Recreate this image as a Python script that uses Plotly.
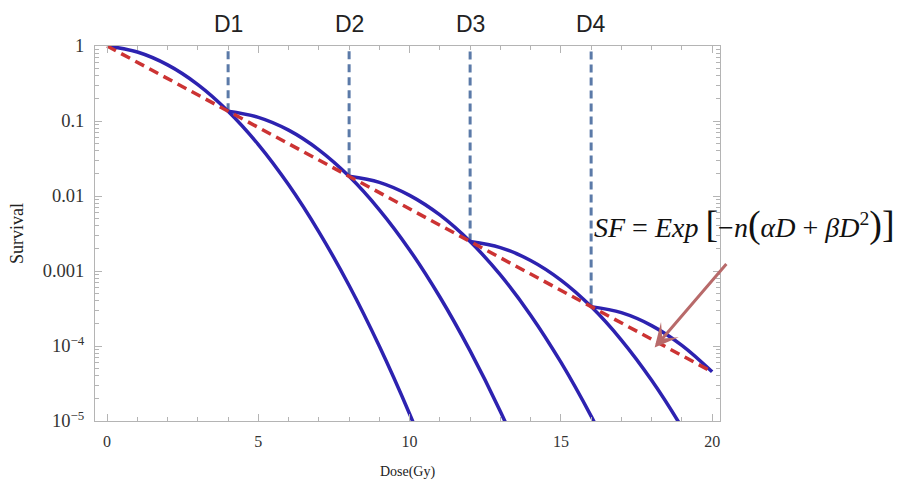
import plotly.graph_objects as go

# Fraction boundaries (Gy) and their labels
fraction_dose = [4, 8, 12, 16]
fraction_labels = ["D1", "D2", "D3", "D4"]
fraction_surv = [0.135, 0.0183, 0.00247, 3.35e-4]

# Single-fraction survival curves, one starting at each fraction boundary
dose_c1 = [0, 1, 2, 3, 4, 5, 6, 7, 8, 9, 10, 11]
surv_c1 = [1.0, 0.831, 0.560, 0.306, 0.135, 0.0485, 0.0141, 0.00333, 6.4e-4, 9.9e-5, 1.24e-5, 1.27e-6]

dose_c2 = [4, 5, 6, 7, 8, 9, 10, 11, 12, 13, 14]
surv_c2 = [0.135, 0.112, 0.0756, 0.0413, 0.0183, 0.00655, 0.00191, 4.5e-4, 8.6e-5, 1.34e-5, 1.67e-6]

dose_c3 = [8, 9, 10, 11, 12, 13, 14, 15, 16, 17]
surv_c3 = [0.0183, 0.0152, 0.0102, 0.00559, 0.00247, 8.86e-4, 2.58e-4, 6.08e-5, 1.16e-5, 1.81e-6]

dose_c4 = [12, 13, 14, 15, 16, 17, 18, 19, 20]
surv_c4 = [0.00247, 0.00205, 0.00138, 7.56e-4, 3.35e-4, 1.2e-4, 3.49e-5, 8.2e-6, 1.57e-6]

dose_c5 = [16, 17, 18, 19, 20]
surv_c5 = [3.35e-4, 2.78e-4, 1.87e-4, 1.02e-4, 4.53e-5]

# Fractionated (effective) survival line
dose_frac = [0, 4, 8, 12, 16, 20]
surv_frac = [1.0, 0.135, 0.0183, 0.00247, 3.35e-4, 4.53e-5]

x_ticks = [0, 5, 10, 15, 20]
y_ticks = [1e-5, 1e-4, 1e-3, 1e-2, 1e-1, 1]
y_tick_text = ["10<sup>−5</sup>", "10<sup>−4</sup>", "0.001", "0.01", "0.1", "1"]

BLUE = "#2d22b0"
RED = "#cc3333"
GUIDE = "#5b7aa8"
FRAME = "#b4b4b4"
SERIF = "Liberation Serif"

fig = go.Figure()

# vertical guides at each fraction dose
for d, s in zip(fraction_dose, fraction_surv):
    fig.add_trace(go.Scatter(
        x=[d, d], y=[s, 0.85], mode="lines",
        line=dict(color=GUIDE, width=3, dash="8px,5px"),
        hoverinfo="skip", showlegend=False,
    ))

for xs, ys in [(dose_c1, surv_c1), (dose_c2, surv_c2), (dose_c3, surv_c3),
               (dose_c4, surv_c4), (dose_c5, surv_c5)]:
    fig.add_trace(go.Scatter(
        x=xs, y=ys, mode="lines",
        line=dict(color=BLUE, width=3.5, shape="spline", smoothing=1),
        showlegend=False,
    ))

fig.add_trace(go.Scatter(
    x=dose_frac, y=surv_frac, mode="lines",
    line=dict(color=RED, width=3.5, dash="10px,6px"),
    showlegend=False,
))

# fraction labels above the frame
for d, lab in zip(fraction_dose, fraction_labels):
    fig.add_annotation(
        x=d, xref="x", y=1.0, yref="paper", yanchor="bottom", yshift=7,
        text=lab, showarrow=False,
        font=dict(family="Liberation Sans", size=23, color="#222222"),
    )

# equation
big = "<span style='font-size:38px'>"
eq = ("<i>SF</i> = <i>Exp</i> " + big + "[</span>−<i>n</i>" + big + "(</span>"
      "<i>αD</i> + <i>βD</i><sup>2</sup>" + big + ")]</span>")
fig.add_annotation(
    x=0.795, xref="paper", y=0.525, yref="paper",
    xanchor="left", yanchor="middle",
    text=eq, showarrow=False,
    font=dict(family=SERIF, size=28, color="#111111"),
)

# arrow pointing to the fractionated line
fig.add_annotation(
    x=18.1, xref="x", y=-4.02, yref="y",
    ax=73, ay=-85, axref="pixel", ayref="pixel",
    text="", showarrow=True,
    arrowhead=3, arrowsize=1.3, arrowwidth=3, arrowcolor="#b86a6a",
)

axis_common = dict(
    showline=True, linecolor=FRAME, linewidth=1, mirror="ticks",
    ticks="inside", tickcolor=FRAME, ticklen=7, tickwidth=1,
    showgrid=False, zeroline=False,
)

fig.update_xaxes(
    range=[-0.4, 20.26], tickvals=x_ticks,
    tickfont=dict(family=SERIF, size=16, color="#333333"),
    ticklabelstandoff=6,
    minor=dict(dtick=1, ticks="inside", ticklen=4, tickcolor=FRAME),
    title=dict(text="Dose(Gy)", font=dict(family=SERIF, size=14, color="#222222"), standoff=16),
    **axis_common,
)

y_minor = [m * 10 ** e for e in range(-5, 0) for m in range(2, 10)]
fig.update_yaxes(
    type="log", range=[-5, 0], tickvals=y_ticks, ticktext=y_tick_text,
    tickfont=dict(family=SERIF, size=18.5, color="#333333"),
    ticklabelstandoff=6,
    minor=dict(tickvals=y_minor, ticks="inside", ticklen=4, tickcolor=FRAME),
    title=dict(text="Survival", font=dict(family=SERIF, size=18, color="#222222"), standoff=14),
    **axis_common,
)

fig.update_layout(
    width=905, height=488,
    margin=dict(l=95, r=185, t=46, b=65),
    paper_bgcolor="white", plot_bgcolor="white",
    showlegend=False,
)

fig.write_html("out.html")
